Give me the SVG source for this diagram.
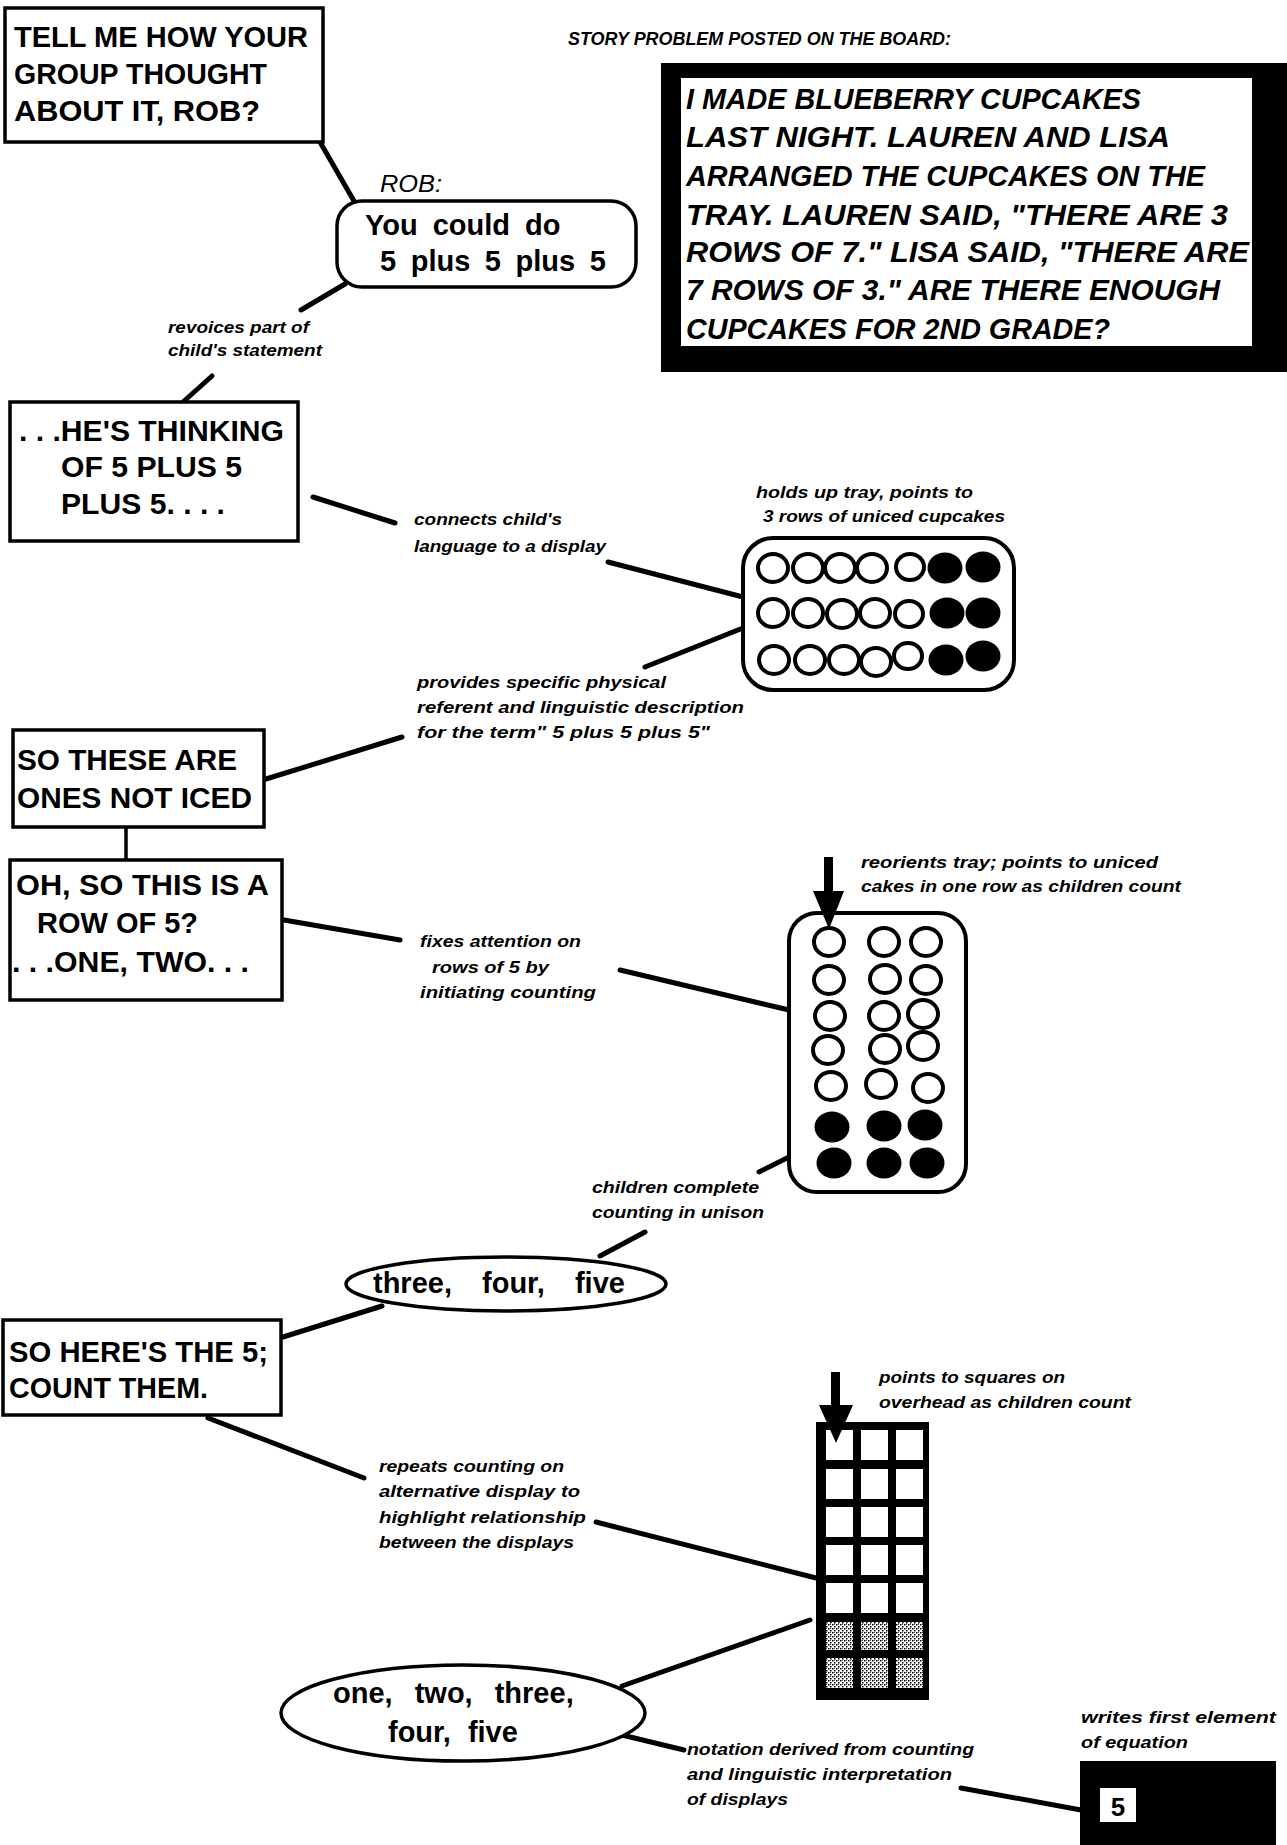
<svg xmlns="http://www.w3.org/2000/svg" width="1287" height="1845" viewBox="0 0 1287 1845">
  <style>
    .t { font-family: "Liberation Sans", Arial, sans-serif; font-weight: bold; font-size: 29px; fill: #000; }
    .story { font-family: "Liberation Sans", Arial, sans-serif; font-weight: bold; font-style: italic; font-size: 29px; fill: #000; }
    .note { font-family: "Liberation Sans", Arial, sans-serif; font-weight: bold; font-style: italic; font-size: 17px; fill: #000; }
    .speaker { font-family: "Liberation Sans", Arial, sans-serif; font-style: italic; font-size: 24px; fill: #000; }
    .box { fill: #fff; stroke: #000; stroke-width: 3.5; }
    .conn { stroke: #000; stroke-width: 5; stroke-linecap: round; fill: none; }
    .hollow { fill: #fff; stroke: #000; stroke-width: 4; }
    .full { fill: #000; }
  </style>
  <defs>
    <pattern id="dots" width="4" height="4" patternUnits="userSpaceOnUse">
      <rect width="4" height="4" fill="#fff"/>
      <rect x="0" y="0" width="1.5" height="1.5" fill="#000"/>
      <rect x="2" y="2" width="1.5" height="1.5" fill="#000"/>
      <rect x="2" y="0" width="1" height="1" fill="#555"/>
    </pattern>
  </defs>
  <rect width="1287" height="1845" fill="#fff"/>

  <!-- connectors -->
  <g id="connectors">
    <line class="conn" x1="320" y1="142" x2="354" y2="201"/>
    <line class="conn" x1="345" y1="284" x2="301" y2="310"/>
    <line class="conn" x1="212" y1="376" x2="183" y2="402"/>
    <line class="conn" x1="313" y1="497" x2="395" y2="523"/>
    <line class="conn" x1="608" y1="562" x2="743" y2="597"/>
    <line class="conn" x1="743" y1="628" x2="645" y2="667"/>
    <line class="conn" x1="402" y1="737" x2="266" y2="779"/>
    <line class="conn" x1="126" y1="827" x2="126" y2="860" style="stroke-width:3.5"/>
    <line class="conn" x1="284" y1="920" x2="400" y2="940"/>
    <line class="conn" x1="620" y1="970" x2="789" y2="1010"/>
    <line class="conn" x1="789" y1="1157" x2="759" y2="1172"/>
    <line class="conn" x1="645" y1="1232" x2="600" y2="1256"/>
    <line class="conn" x1="283" y1="1337" x2="382" y2="1306"/>
    <line class="conn" x1="208" y1="1418" x2="364" y2="1478"/>
    <line class="conn" x1="596" y1="1522" x2="816" y2="1578"/>
    <line class="conn" x1="810" y1="1620" x2="622" y2="1686"/>
    <line class="conn" x1="622" y1="1735" x2="684" y2="1750"/>
    <line class="conn" x1="961" y1="1788" x2="1081" y2="1810"/>
  </g>

  <!-- teacher's opening question -->
  <g id="ask-rob">
    <rect class="box" x="5" y="8" width="318" height="134"/>
    <text class="t" x="14" y="47" textLength="294" lengthAdjust="spacingAndGlyphs">TELL ME HOW YOUR</text>
    <text class="t" x="14" y="84" textLength="253" lengthAdjust="spacingAndGlyphs">GROUP THOUGHT</text>
    <text class="t" x="14" y="121" textLength="246" lengthAdjust="spacingAndGlyphs">ABOUT IT, ROB?</text>
  </g>

  <!-- story problem on the board -->
  <g id="story-caption">
    <text class="note" x="568" y="45" style="font-size:18px" textLength="383" lengthAdjust="spacingAndGlyphs">STORY PROBLEM POSTED ON THE BOARD:</text>
  </g>
  <g id="story-board">
    <rect x="661" y="63" width="626" height="309" fill="#000"/>
    <rect x="681" y="78" width="571" height="268" fill="#fff"/>
    <text class="story" x="686" y="109" textLength="455" lengthAdjust="spacingAndGlyphs">I MADE BLUEBERRY CUPCAKES</text>
    <text class="story" x="686" y="147" textLength="484" lengthAdjust="spacingAndGlyphs">LAST NIGHT.  LAUREN AND LISA</text>
    <text class="story" x="686" y="186" textLength="519" lengthAdjust="spacingAndGlyphs">ARRANGED THE CUPCAKES ON THE</text>
    <text class="story" x="686" y="225" textLength="542" lengthAdjust="spacingAndGlyphs">TRAY.  LAUREN SAID, "THERE ARE 3</text>
    <text class="story" x="686" y="262" textLength="563" lengthAdjust="spacingAndGlyphs">ROWS OF 7."  LISA SAID, "THERE ARE</text>
    <text class="story" x="686" y="300" textLength="534" lengthAdjust="spacingAndGlyphs">7 ROWS OF 3."  ARE THERE ENOUGH</text>
    <text class="story" x="686" y="339" textLength="424" lengthAdjust="spacingAndGlyphs">CUPCAKES FOR 2ND GRADE?</text>
  </g>

  <!-- Rob's answer -->
  <g id="rob">
    <text class="speaker" x="380" y="192" textLength="62" lengthAdjust="spacingAndGlyphs">ROB:</text>
    <rect class="box" x="337" y="201" width="299" height="86" rx="25" ry="25"/>
    <text class="t" x="365" y="235" style="word-spacing:7px">You could do</text>
    <text class="t" x="380" y="271" style="word-spacing:6.5px">5 plus 5 plus 5</text>
  </g>

  <g id="note-revoices">
    <text class="note" x="168" y="333" textLength="141" lengthAdjust="spacingAndGlyphs">revoices part of</text>
    <text class="note" x="168" y="356" textLength="154" lengthAdjust="spacingAndGlyphs">child's statement</text>
  </g>

  <g id="thinking">
    <rect class="box" x="10" y="402" width="288" height="139"/>
    <text class="t" x="19" y="441" textLength="265" lengthAdjust="spacingAndGlyphs">. . .HE'S THINKING</text>
    <text class="t" x="61" y="477" textLength="181" lengthAdjust="spacingAndGlyphs">OF 5 PLUS 5</text>
    <text class="t" x="61" y="514" textLength="164" lengthAdjust="spacingAndGlyphs">PLUS 5. . . .</text>
  </g>

  <g id="note-connects">
    <text class="note" x="414" y="525" textLength="148" lengthAdjust="spacingAndGlyphs">connects child's</text>
    <text class="note" x="414" y="552" textLength="192" lengthAdjust="spacingAndGlyphs">language to a display</text>
  </g>

  <g id="note-holds-tray">
    <text class="note" x="756" y="498" textLength="217" lengthAdjust="spacingAndGlyphs">holds up tray, points to</text>
    <text class="note" x="763" y="522" textLength="242" lengthAdjust="spacingAndGlyphs">3 rows of uniced cupcakes</text>
  </g>

  <!-- tray held with three rows of seven -->
  <g id="tray-rows">
    <rect x="743" y="538" width="271" height="152" rx="30" ry="30" fill="#fff" stroke="#000" stroke-width="4"/>
    <g>
      <ellipse class="hollow" cx="773" cy="568" rx="15" ry="14"/>
      <ellipse class="hollow" cx="808" cy="568" rx="15" ry="14"/>
      <ellipse class="hollow" cx="840" cy="568" rx="15" ry="14"/>
      <ellipse class="hollow" cx="872" cy="568" rx="15" ry="14"/>
      <ellipse class="hollow" cx="910" cy="567" rx="14" ry="13"/>
      <ellipse class="full" cx="945" cy="568" rx="17.5" ry="15.5"/>
      <ellipse class="full" cx="983" cy="567" rx="17.5" ry="15.5"/>
    </g>
    <g>
      <ellipse class="hollow" cx="773" cy="613" rx="15" ry="14"/>
      <ellipse class="hollow" cx="808" cy="613" rx="15" ry="14"/>
      <ellipse class="hollow" cx="842" cy="614" rx="15" ry="14"/>
      <ellipse class="hollow" cx="875" cy="613" rx="15" ry="14"/>
      <ellipse class="hollow" cx="909" cy="614" rx="14" ry="13"/>
      <ellipse class="full" cx="947" cy="613" rx="17.5" ry="15.5"/>
      <ellipse class="full" cx="983" cy="613" rx="17.5" ry="15.5"/>
    </g>
    <g>
      <ellipse class="hollow" cx="774" cy="660" rx="15" ry="14"/>
      <ellipse class="hollow" cx="810" cy="660" rx="15" ry="14"/>
      <ellipse class="hollow" cx="844" cy="660" rx="15" ry="14"/>
      <ellipse class="hollow" cx="876" cy="662" rx="15" ry="14"/>
      <ellipse class="hollow" cx="908" cy="656" rx="14" ry="13"/>
      <ellipse class="full" cx="946" cy="660" rx="17.5" ry="15.5"/>
      <ellipse class="full" cx="983" cy="656" rx="17.5" ry="15.5"/>
    </g>
  </g>

  <g id="note-provides">
    <text class="note" x="417" y="688" textLength="249" lengthAdjust="spacingAndGlyphs">provides specific physical</text>
    <text class="note" x="417" y="713" textLength="327" lengthAdjust="spacingAndGlyphs">referent and linguistic description</text>
    <text class="note" x="417" y="738" textLength="293" lengthAdjust="spacingAndGlyphs">for the term" 5 plus 5 plus 5"</text>
  </g>

  <g id="not-iced">
    <rect class="box" x="13" y="730" width="251" height="97"/>
    <text class="t" x="17" y="770" textLength="220" lengthAdjust="spacingAndGlyphs">SO THESE ARE</text>
    <text class="t" x="17" y="808" textLength="235" lengthAdjust="spacingAndGlyphs">ONES NOT ICED</text>
  </g>

  <g id="row-of-five">
    <rect class="box" x="10" y="860" width="272" height="140"/>
    <text class="t" x="16" y="895" textLength="253" lengthAdjust="spacingAndGlyphs">OH, SO THIS IS A</text>
    <text class="t" x="37" y="933" textLength="161" lengthAdjust="spacingAndGlyphs">ROW OF 5?</text>
    <text class="t" x="12" y="972" textLength="237" lengthAdjust="spacingAndGlyphs">. . .ONE, TWO. . .</text>
  </g>

  <g id="note-fixes">
    <text class="note" x="420" y="947" textLength="161" lengthAdjust="spacingAndGlyphs">fixes attention on</text>
    <text class="note" x="432" y="973" textLength="117" lengthAdjust="spacingAndGlyphs">rows of 5 by</text>
    <text class="note" x="420" y="998" textLength="176" lengthAdjust="spacingAndGlyphs">initiating  counting</text>
  </g>

  <g id="note-reorients">
    <text class="note" x="861" y="868" textLength="297" lengthAdjust="spacingAndGlyphs">reorients tray; points to uniced</text>
    <text class="note" x="861" y="892" textLength="320" lengthAdjust="spacingAndGlyphs">cakes in one row as children count</text>
  </g>

  <!-- tray turned to seven rows of three -->
  <g id="tray-columns">
    <rect x="789" y="913" width="177" height="279" rx="28" ry="28" fill="#fff" stroke="#000" stroke-width="4"/>
    <ellipse class="hollow" cx="829" cy="942" rx="15" ry="14"/>
    <ellipse class="hollow" cx="884" cy="942" rx="15" ry="14"/>
    <ellipse class="hollow" cx="926" cy="942" rx="15" ry="14"/>
    <ellipse class="hollow" cx="829" cy="980" rx="15" ry="14"/>
    <ellipse class="hollow" cx="885" cy="979" rx="15" ry="14"/>
    <ellipse class="hollow" cx="926" cy="980" rx="15" ry="14"/>
    <ellipse class="hollow" cx="830" cy="1016" rx="15" ry="14"/>
    <ellipse class="hollow" cx="884" cy="1016" rx="15" ry="14"/>
    <ellipse class="hollow" cx="923" cy="1014" rx="15" ry="14"/>
    <ellipse class="hollow" cx="828" cy="1050" rx="15" ry="14"/>
    <ellipse class="hollow" cx="885" cy="1049" rx="15" ry="14"/>
    <ellipse class="hollow" cx="923" cy="1046" rx="15" ry="14"/>
    <ellipse class="hollow" cx="831" cy="1086" rx="15" ry="14"/>
    <ellipse class="hollow" cx="881" cy="1084" rx="15" ry="14"/>
    <ellipse class="hollow" cx="928" cy="1088" rx="15" ry="14"/>
    <ellipse class="full" cx="832" cy="1127" rx="17.5" ry="15.5"/>
    <ellipse class="full" cx="884" cy="1126" rx="17.5" ry="15.5"/>
    <ellipse class="full" cx="925" cy="1125" rx="17.5" ry="15.5"/>
    <ellipse class="full" cx="834" cy="1163" rx="17.5" ry="15.5"/>
    <ellipse class="full" cx="884" cy="1163" rx="17.5" ry="15.5"/>
    <ellipse class="full" cx="927" cy="1163" rx="17.5" ry="15.5"/>
    <!-- pointing arrow -->
    <rect x="824" y="857" width="9" height="36" fill="#000"/>
    <polygon points="813,891 844,891 829,929" fill="#000"/>
  </g>

  <g id="note-children-complete">
    <text class="note" x="592" y="1193" textLength="167" lengthAdjust="spacingAndGlyphs">children complete</text>
    <text class="note" x="592" y="1218" textLength="172" lengthAdjust="spacingAndGlyphs">counting in unison</text>
  </g>

  <g id="three-four-five">
    <ellipse cx="506" cy="1284" rx="160" ry="27" fill="#fff" stroke="#000" stroke-width="3.5"/>
    <text class="t" x="373" y="1293" style="word-spacing:22px">three, four, five</text>
  </g>

  <g id="count-them">
    <rect class="box" x="3" y="1320" width="278" height="95"/>
    <text class="t" x="9" y="1362" textLength="259" lengthAdjust="spacingAndGlyphs">SO HERE'S THE 5;</text>
    <text class="t" x="9" y="1398" textLength="199" lengthAdjust="spacingAndGlyphs">COUNT THEM.</text>
  </g>

  <g id="note-repeats">
    <text class="note" x="379" y="1472" textLength="185" lengthAdjust="spacingAndGlyphs">repeats counting on</text>
    <text class="note" x="379" y="1497" textLength="201" lengthAdjust="spacingAndGlyphs">alternative display to</text>
    <text class="note" x="379" y="1523" textLength="207" lengthAdjust="spacingAndGlyphs">highlight  relationship</text>
    <text class="note" x="379" y="1548" textLength="195" lengthAdjust="spacingAndGlyphs">between the displays</text>
  </g>

  <g id="note-points-squares">
    <text class="note" x="879" y="1383" textLength="186" lengthAdjust="spacingAndGlyphs">points to squares on</text>
    <text class="note" x="879" y="1408" textLength="252" lengthAdjust="spacingAndGlyphs">overhead as children count</text>
  </g>

  <!-- overhead grid of squares -->
  <g id="square-grid">
    <rect x="816" y="1422" width="113" height="278" fill="#000"/>
    <g fill="#fff">
      <rect x="826" y="1430" width="27" height="30"/>
      <rect x="861" y="1430" width="27" height="30"/>
      <rect x="896" y="1430" width="27" height="30"/>
      <rect x="826" y="1469" width="27" height="30"/>
      <rect x="861" y="1469" width="27" height="30"/>
      <rect x="896" y="1469" width="27" height="30"/>
      <rect x="826" y="1507" width="27" height="30"/>
      <rect x="861" y="1507" width="27" height="30"/>
      <rect x="896" y="1507" width="27" height="30"/>
      <rect x="826" y="1545" width="27" height="30"/>
      <rect x="861" y="1545" width="27" height="30"/>
      <rect x="896" y="1545" width="27" height="30"/>
      <rect x="826" y="1583" width="27" height="30"/>
      <rect x="861" y="1583" width="27" height="30"/>
      <rect x="896" y="1583" width="27" height="30"/>
    </g>
    <g fill="url(#dots)">
      <rect x="826" y="1622" width="27" height="28"/>
      <rect x="861" y="1622" width="27" height="28"/>
      <rect x="896" y="1622" width="27" height="28"/>
      <rect x="826" y="1658" width="27" height="30"/>
      <rect x="861" y="1658" width="27" height="30"/>
      <rect x="896" y="1658" width="27" height="30"/>
    </g>
    <!-- pointing arrow -->
    <rect x="831" y="1372" width="9" height="36" fill="#000"/>
    <polygon points="819,1405 853,1405 836,1443" fill="#000"/>
  </g>

  <g id="one-to-five">
    <ellipse cx="463" cy="1713" rx="182" ry="48" fill="#fff" stroke="#000" stroke-width="3.5"/>
    <text class="t" x="333" y="1703" style="word-spacing:14px">one, two, three,</text>
    <text class="t" x="388" y="1742" style="word-spacing:9px">four, five</text>
  </g>

  <g id="note-notation">
    <text class="note" x="687" y="1755" textLength="287" lengthAdjust="spacingAndGlyphs">notation derived from counting</text>
    <text class="note" x="687" y="1780" textLength="265" lengthAdjust="spacingAndGlyphs">and linguistic interpretation</text>
    <text class="note" x="687" y="1805" textLength="101" lengthAdjust="spacingAndGlyphs">of displays</text>
  </g>

  <g id="note-writes">
    <text class="note" x="1081" y="1723" textLength="195" lengthAdjust="spacingAndGlyphs">writes first element</text>
    <text class="note" x="1081" y="1748" textLength="107" lengthAdjust="spacingAndGlyphs">of equation</text>
  </g>

  <!-- equation written on the board -->
  <g id="equation">
    <rect x="1080" y="1761" width="196" height="84" fill="#000"/>
    <rect x="1100" y="1788" width="36" height="34" fill="#fff"/>
    <text class="t" x="1118" y="1816" text-anchor="middle" style="font-size:26px">5</text>
  </g>
</svg>
